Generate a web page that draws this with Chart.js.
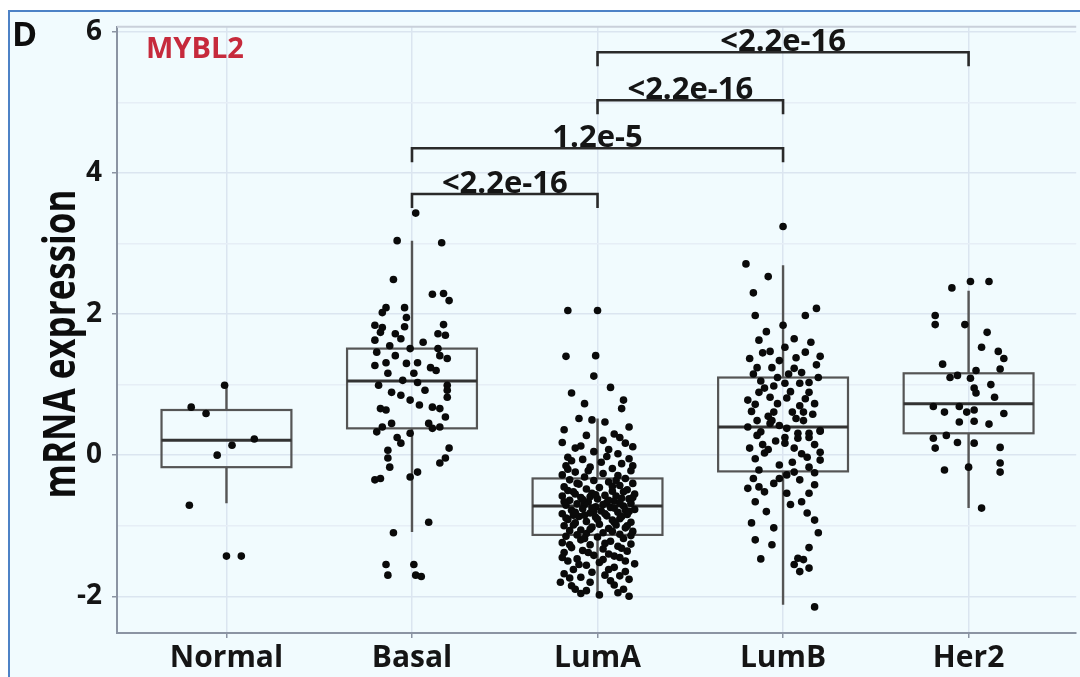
<!DOCTYPE html>
<html>
<head>
<meta charset="utf-8">
<script src="https://cdn.jsdelivr.net/npm/chart.js@4.4.1/dist/chart.umd.min.js"></script>
<style>
    html, body { margin: 0; padding: 0; background: #fff; overflow: hidden; }
    #wrap { width: 1080px; height: 677px; position: relative; }
</style>
</head>
<body>
<div id="wrap"><canvas id="mybl2Chart"></canvas></div>
<script>
const categories = ["Normal", "Basal", "LumA", "LumB", "Her2"];
const yTicks = [-2, -1, 0, 1, 2, 3, 4, 5, 6];

// box plot stats per subtype
const boxQ1 = [-0.17, 0.38, -1.13, -0.23, 0.31];
const boxMedian = [0.21, 1.05, -0.72, 0.40, 0.73];
const boxQ3 = [0.64, 1.51, -0.33, 1.10, 1.16];
const whiskerLow = [-0.68, -1.09, -2.00, -2.12, -0.75];
const whiskerHigh = [0.99, 3.04, 0.52, 2.69, 2.33];

// jittered samples: [offset from category, expression]
const normalPoints = [
    [-0.01, 0.99], [-0.19, 0.68], [-0.11, 0.59], [0.15, 0.23], [0.03, 0.14],
    [-0.05, 0.00], [-0.20, -0.71], [0.00, -1.43], [0.08, -1.43],
];
const basalPoints = [
    [0.02, 3.43], [-0.08, 3.04], [0.16, 3.01], [-0.10, 2.49], [0.11, 2.28], [0.17, 2.29],
    [0.20, 2.19], [-0.14, 2.09], [-0.16, 2.02], [-0.04, 2.09], [-0.03, 1.95], [-0.04, 1.82],
    [-0.16, 1.81], [-0.20, 1.84], [-0.17, 1.74], [-0.09, 1.72], [-0.06, 1.65], [0.17, 1.85],
    [0.14, 1.72], [0.06, 1.60], [0.18, 1.70], [-0.20, 1.63], [-0.12, 1.55], [-0.19, 1.46],
    [-0.01, 1.51], [0.14, 1.51], [0.15, 1.41], [0.19, 1.37], [-0.09, 1.41], [-0.14, 1.31],
    [-0.03, 1.30], [0.03, 1.31], [0.10, 1.24], [0.13, 1.20], [-0.20, 1.27], [-0.13, 1.16],
    [0.01, 1.16], [-0.05, 1.06], [0.03, 1.03], [-0.18, 0.99], [0.19, 0.99], [0.19, 0.92],
    [0.07, 0.92], [-0.11, 0.89], [0.19, 0.82], [-0.06, 0.85], [-0.01, 0.78], [-0.17, 0.66],
    [-0.14, 0.64], [0.04, 0.71], [0.11, 0.68], [0.15, 0.66], [0.18, 0.54], [-0.19, 0.33],
    [-0.16, 0.40], [-0.11, 0.45], [-0.08, 0.25], [-0.06, 0.17], [-0.01, 0.31], [0.09, 0.45],
    [0.11, 0.38], [0.15, 0.40], [-0.13, 0.07], [-0.13, -0.04], [-0.12, -0.17], [0.20, 0.10],
    [0.18, -0.04], [0.15, -0.11], [-0.17, -0.33], [-0.20, -0.35], [0.03, -0.24], [-0.01, -0.31],
    [0.09, -0.95], [-0.10, -1.10], [-0.14, -1.55], [-0.13, -1.70], [0.01, -1.55], [0.02, -1.70],
    [0.05, -1.72],
];
const lumAPoints = [
    [-0.16, 2.05], [0.00, 2.05], [-0.17, 1.40], [-0.01, 1.41], [-0.02, 1.12], [0.07, 0.96],
    [-0.14, 0.88], [0.14, 0.78], [-0.07, 0.73], [0.13, 0.66], [-0.10, 0.52], [-0.03, 0.50],
    [0.04, 0.47], [0.17, 0.40], [-0.18, 0.36], [0.09, 0.30], [-0.06, 0.28], [0.03, 0.21],
    [-0.19, 0.18], [0.15, 0.17], [0.19, 0.12], [-0.12, 0.10], [0.06, 0.08], [-0.02, 0.05],
    [0.11, 0.02], [-0.16, -0.03], [0.17, -0.05], [-0.08, -0.06], [0.02, -0.10], [0.13, -0.12],
    [-0.17, -0.15], [-0.04, -0.17], [0.08, -0.19], [0.18, -0.22], [-0.12, -0.24], [0.03, -0.26],
    [-0.19, -0.28], [0.11, -0.29], [-0.07, -0.31], [0.15, -0.33], [-0.15, -0.35], [-0.02, -0.36],
    [0.06, -0.38], [0.19, -0.40], [-0.10, -0.41], [0.12, -0.43], [-0.18, -0.45], [0.01, -0.46],
    [-0.06, -0.48], [0.16, -0.49], [0.08, -0.51], [-0.13, -0.52], [-0.03, -0.54], [0.20, -0.55],
    [-0.12, -0.55], [0.04, -0.57], [0.10, -0.58], [-0.19, -0.58], [-0.04, -0.59], [-0.09, -0.60],
    [0.13, -0.61], [0.00, -0.62], [0.17, -0.62], [-0.15, -0.64], [0.09, -0.65], [-0.05, -0.66],
    [0.05, -0.67], [0.18, -0.68], [-0.11, -0.69], [0.03, -0.70], [-0.07, -0.70], [-0.17, -0.71],
    [0.14, -0.72], [-0.01, -0.73], [0.07, -0.74], [0.09, -0.75], [-0.08, -0.76], [0.20, -0.77],
    [-0.14, -0.78], [0.15, -0.78], [0.02, -0.79], [-0.02, -0.80], [0.11, -0.81], [-0.04, -0.82],
    [-0.19, -0.83], [0.16, -0.84], [-0.13, -0.85], [0.05, -0.86], [-0.10, -0.87], [-0.01, -0.88],
    [0.12, -0.90], [-0.16, -0.91], [0.08, -0.92], [-0.06, -0.94], [0.18, -0.95], [-0.12, -0.96],
    [0.01, -0.98], [0.10, -0.99], [-0.18, -1.00], [-0.03, -1.02], [0.15, -1.03], [0.06, -1.04],
    [-0.09, -1.06], [-0.15, -1.07], [0.19, -1.08], [0.03, -1.10], [-0.06, -1.11], [0.12, -1.12],
    [-0.17, -1.15], [0.00, -1.16], [0.14, -1.18], [-0.09, -1.20], [0.07, -1.22], [-0.19, -1.24],
    [0.18, -1.26], [-0.04, -1.27], [0.11, -1.29], [-0.14, -1.31], [0.03, -1.33], [-0.08, -1.35],
    [0.16, -1.36], [-0.18, -1.38], [0.06, -1.40], [-0.02, -1.42], [0.12, -1.45], [-0.11, -1.47],
    [-0.16, -1.50], [0.01, -1.52], [0.20, -1.54], [-0.06, -1.56], [0.09, -1.59], [-0.13, -1.62],
    [0.15, -1.65], [-0.18, -1.68], [0.04, -1.70], [-0.09, -1.73], [0.17, -1.76], [-0.20, -1.80],
    [0.09, -1.84], [-0.14, -1.85], [0.14, -1.90], [-0.06, -1.92], [0.11, -1.95], [-0.09, -1.96],
    [0.01, -1.98], [0.17, -2.00],
    [-0.11, -0.40], [0.08, -0.44], [-0.16, -0.50], [0.14, -0.52], [-0.01, -0.56], [0.19, -0.60],
    [-0.08, -0.63], [0.06, -0.64], [-0.18, -0.66], [0.12, -0.68], [-0.03, -0.75], [0.17, -0.80],
    [-0.12, -0.81], [0.04, -0.83], [-0.07, -0.85], [0.13, -0.87], [-0.17, -0.89], [0.00, -0.91],
    [0.09, -0.95], [-0.13, -0.99], [0.16, -1.00], [-0.04, -1.05], [0.08, -1.08], [-0.11, -1.13],
    [0.18, -1.14], [-0.07, -1.18], [0.04, -1.25], [-0.15, -1.27], [0.13, -1.32], [-0.05, -1.38],
    [0.09, -1.43], [-0.19, -1.45], [0.03, -1.48], [0.15, -1.50], [-0.10, -1.55], [0.06, -1.62],
    [-0.03, -1.66], [-0.15, -1.74], [0.12, -1.71], [-0.04, -1.80], [0.07, -1.78], [-0.12, -1.90],
    [0.19, -0.15], [-0.14, -0.08], [0.05, -0.02], [-0.09, 0.13], [0.12, 0.25], [-0.05, -0.22],
    [0.10, -0.36], [-0.16, -0.20],
];
const lumBPoints = [
    [0.00, 3.24], [-0.20, 2.71], [-0.08, 2.53], [-0.16, 2.30], [-0.15, 1.98], [0.18, 2.08],
    [0.12, 1.98], [0.00, 1.84], [-0.13, 1.63], [0.06, 1.65], [0.01, 1.53], [-0.07, 1.47],
    [0.12, 1.46], [0.20, 1.40], [-0.18, 1.37], [0.18, 1.28], [-0.14, 1.24], [-0.06, 1.24],
    [-0.02, 1.34], [0.06, 1.23], [0.03, 1.15], [-0.03, 1.10], [0.10, 1.17], [-0.12, 1.05],
    [0.01, 1.02], [0.09, 1.02], [0.14, 1.03], [-0.10, 0.95], [0.04, 0.90], [-0.13, 0.89],
    [-0.07, 0.82], [0.14, 0.89], [-0.19, 0.78], [0.02, 0.81], [-0.03, 0.73], [0.17, 0.73],
    [0.09, 0.70], [-0.17, 0.62], [0.05, 0.61], [0.11, 0.61], [-0.05, 0.61], [0.16, 0.58],
    [-0.08, 0.55], [-0.14, 0.49], [-0.06, 0.49], [0.11, 0.49], [-0.07, 0.45], [-0.02, 0.42],
    [0.02, 0.38], [-0.12, 0.33], [0.20, 0.34], [0.08, 0.31], [0.14, 0.31], [-0.14, 0.28],
    [0.01, 0.25], [0.08, 0.24], [0.14, 0.25], [0.20, 0.35], [-0.04, 0.20], [-0.11, 0.15],
    [-0.18, 0.10], [-0.10, 0.03], [0.01, 0.17], [0.06, 0.10], [0.20, 0.04], [0.10, 0.02],
    [0.20, -0.07], [-0.15, -0.05], [0.13, -0.03], [0.05, -0.10], [-0.02, -0.14], [-0.13, -0.21],
    [0.06, -0.24], [0.14, -0.17], [0.17, -0.25], [-0.16, -0.33], [-0.02, -0.33], [0.02, -0.28],
    [-0.05, -0.40], [0.17, -0.42], [-0.19, -0.47], [-0.10, -0.52], [0.02, -0.54], [0.14, -0.54],
    [-0.15, -0.66], [0.10, -0.66], [0.13, -0.82], [0.17, -0.92], [-0.17, -0.96], [-0.05, -1.03],
    [-0.06, -1.27], [0.14, -1.31], [-0.12, -1.47], [0.08, -1.46], [0.06, -1.55], [0.09, -1.65],
    [0.14, -1.60], [0.17, -2.15],
    [-0.09, 1.75], [0.15, 1.60], [-0.11, 1.45], [0.07, 1.38], [-0.16, 1.15], [0.19, 1.10],
    [-0.05, 0.98], [0.12, 0.80], [-0.15, 0.72], [0.07, 0.52], [-0.19, 0.40], [0.17, 0.15],
    [-0.08, 0.08], [0.09, -0.35], [-0.13, -0.45], [0.04, -0.70], [-0.09, -0.80], [0.19, -1.10],
    [-0.15, -1.20], [0.11, -1.48],
];
const her2Points = [
    [0.01, 2.46], [0.11, 2.46], [-0.09, 2.37], [-0.18, 1.98], [-0.18, 1.85], [-0.02, 1.85],
    [0.10, 1.74], [0.07, 1.53], [0.16, 1.47], [0.19, 1.37], [-0.14, 1.29], [-0.06, 1.13],
    [0.04, 1.20], [0.17, 1.22], [-0.10, 1.10], [0.01, 1.09], [0.12, 1.00], [0.03, 0.95],
    [0.04, 0.88], [0.14, 0.82], [-0.19, 0.69], [-0.13, 0.61], [-0.05, 0.69], [-0.01, 0.61],
    [0.03, 0.64], [0.19, 0.59], [-0.05, 0.47], [0.03, 0.48], [0.11, 0.44], [-0.19, 0.24],
    [-0.12, 0.28], [-0.06, 0.18], [0.03, 0.17], [-0.18, 0.10], [0.17, 0.11], [-0.13, -0.21],
    [0.00, -0.17], [0.17, -0.11], [0.17, -0.24], [0.07, -0.75],
];
const groupPoints = [normalPoints, basalPoints, lumAPoints, lumBPoints, her2Points];

// significance brackets between subtypes
const bracketFrom = [1, 1, 2, 2];
const bracketTo = [2, 3, 3, 4];
const bracketLevel = [3.70, 4.35, 5.03, 5.71];
const bracketLabels = ["<2.2e-16", "1.2e-5", "<2.2e-16", "<2.2e-16"];

const geneName = "MYBL2";
const panelTag = "D";
const yTitle = "mRNA expression";

const FONT = "'Open Sans', 'DejaVu Sans', sans-serif";
const BOX_HALF = 0.35;

const boxPlugin = {
    id: "boxPlot",
    beforeDraw(chart) {
        const {ctx, width, height} = chart;
        ctx.save();
        ctx.fillStyle = "#ffffff";
        ctx.fillRect(0, 0, width, height);
        ctx.fillStyle = "#f1fbfe";
        ctx.fillRect(8, 10, width - 8, height - 10);
        ctx.strokeStyle = "#4d82c6";
        ctx.lineWidth = 2;
        ctx.beginPath();
        ctx.moveTo(9, height);
        ctx.lineTo(9, 11);
        ctx.lineTo(width, 11);
        ctx.stroke();
        ctx.restore();
    },
    beforeDatasetsDraw(chart) {
        const {ctx, chartArea} = chart;
        const xs = chart.scales.x;
        const ys = chart.scales.y;
        ctx.save();
        // panel top border
        ctx.strokeStyle = "#c9d0da";
        ctx.lineWidth = 2;
        ctx.beginPath();
        ctx.moveTo(chartArea.left, chartArea.top);
        ctx.lineTo(chartArea.right, chartArea.top);
        ctx.stroke();

        categories.forEach((c, i) => {
            const cx = xs.getPixelForValue(i);
            const l = xs.getPixelForValue(i - BOX_HALF);
            const r = xs.getPixelForValue(i + BOX_HALF);
            const q1 = ys.getPixelForValue(boxQ1[i]);
            const q3 = ys.getPixelForValue(boxQ3[i]);
            const med = ys.getPixelForValue(boxMedian[i]);
            ctx.strokeStyle = "#555555";
            ctx.lineWidth = 2.4;
            ctx.beginPath();
            ctx.moveTo(cx, q3);
            ctx.lineTo(cx, ys.getPixelForValue(whiskerHigh[i]));
            ctx.moveTo(cx, q1);
            ctx.lineTo(cx, ys.getPixelForValue(whiskerLow[i]));
            ctx.stroke();
            ctx.lineWidth = 2.2;
            ctx.strokeRect(l, q3, r - l, q1 - q3);
            ctx.strokeStyle = "#333333";
            ctx.lineWidth = 3;
            ctx.beginPath();
            ctx.moveTo(l, med);
            ctx.lineTo(r, med);
            ctx.stroke();
        });
        ctx.restore();
    },
    afterDatasetsDraw(chart) {
        const {ctx} = chart;
        const xs = chart.scales.x;
        const ys = chart.scales.y;
        ctx.save();
        ctx.strokeStyle = "#2a2a2a";
        ctx.lineWidth = 2.6;
        ctx.fillStyle = "#151515";
        ctx.font = "bold 31px " + FONT;
        ctx.textAlign = "center";
        ctx.textBaseline = "alphabetic";
        bracketLabels.forEach((label, k) => {
            const x1 = xs.getPixelForValue(bracketFrom[k]);
            const x2 = xs.getPixelForValue(bracketTo[k]);
            const y = ys.getPixelForValue(bracketLevel[k]);
            ctx.beginPath();
            ctx.moveTo(x1, y + 14);
            ctx.lineTo(x1, y);
            ctx.lineTo(x2, y);
            ctx.lineTo(x2, y + 14);
            ctx.stroke();
            ctx.fillText(label, (x1 + x2) / 2, y - 1);
        });

        ctx.textAlign = "left";
        ctx.fillStyle = "#0d0d0d";
        ctx.font = "bold 34px " + FONT;
        ctx.fillText(panelTag, 12, 46);
        ctx.fillStyle = "#c62a3c";
        ctx.font = "bold 29px " + FONT;
        ctx.fillText(geneName, 146, 58);

        // y axis title, glyphs a little wider like the scanned figure
        ctx.fillStyle = "#0d0d0d";
        ctx.font = "bold 35px " + FONT;
        ctx.textAlign = "center";
        ctx.textBaseline = "middle";
        ctx.translate(62, 344);
        ctx.rotate(-Math.PI / 2);
        ctx.scale(1, 1.3);
        ctx.fillText(yTitle, 0, 0);
        ctx.restore();
    },
};

const datasets = groupPoints.map((pts, i) => ({
    label: categories[i],
    data: pts.map(p => ({x: i + p[0], y: p[1]})),
    pointRadius: 3.8,
    pointHoverRadius: 3.8,
    pointBackgroundColor: "#0a0a0a",
    pointBorderWidth: 0,
}));

const axisColor = "#8b94a3";

new Chart(document.getElementById("mybl2Chart").getContext("2d"), {
    type: "scatter",
    data: {datasets},
    options: {
        responsive: true,
        maintainAspectRatio: false,
        animation: false,
        layout: {padding: {top: 25, right: 0, left: 0, bottom: 0}},
        plugins: {
            legend: {display: false},
            tooltip: {enabled: false},
        },
        scales: {
            x: {
                type: "linear",
                min: -0.59,
                max: 4.58,
                afterBuildTicks: scale => {
                    scale.ticks = categories.map((c, i) => ({value: i}));
                },
                afterFit: scale => {
                    scale.height = 44;
                },
                ticks: {
                    callback: v => categories[v],
                    color: "#151515",
                    font: {family: FONT, size: 30, weight: "bold"},
                    padding: 2,
                    maxRotation: 0,
                },
                grid: {
                    color: "#dbe5f0",
                    lineWidth: 1.5,
                    tickLength: 5,
                    tickColor: axisColor,
                },
                border: {color: axisColor, width: 2},
            },
            y: {
                min: -2.52,
                max: 6.07,
                afterBuildTicks: scale => {
                    scale.ticks = yTicks.map(v => ({value: v}));
                },
                afterFit: scale => {
                    scale.width = 117;
                },
                ticks: {
                    callback: v => (v % 2 === 0 ? String(v) : ""),
                    color: "#151515",
                    font: {family: FONT, size: 28, weight: "bold"},
                    padding: 10,
                },
                grid: {
                    color: c => (c.tick && c.tick.value % 2 !== 0 ? "#e6eef6" : "#dbe5f0"),
                    lineWidth: 1.5,
                    tickLength: 5,
                    tickColor: c => (c.tick && c.tick.value % 2 !== 0 ? "rgba(0,0,0,0)" : axisColor),
                },
                border: {color: axisColor, width: 2},
            },
        },
    },
    plugins: [boxPlugin],
});
</script>
</body>
</html>
